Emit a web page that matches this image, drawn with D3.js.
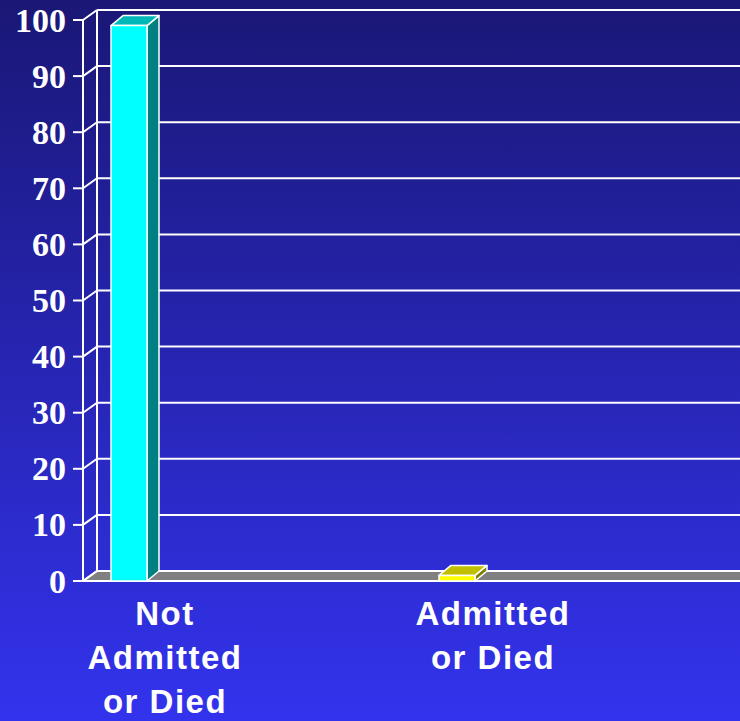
<!DOCTYPE html>
<html lang="en">
<head>
  <meta charset="UTF-8">
  <title>Admission outcome</title>
  <script src="https://d3js.org/d3.v7.min.js"></script>
  <style>
    body { margin: 0; background: #2020a0; }
    svg { display: block; }
    .tick-label { font-family: "Liberation Serif", "Times New Roman", serif; font-weight: bold; font-size: 34px; fill: #fff; }
    .cat-label { font-family: "Liberation Sans", Arial, sans-serif; font-weight: bold; font-size: 33px; fill: #fff; letter-spacing: 1.5px; }
  </style>
</head>
<body>
<svg id="chart" width="740" height="721"></svg>
<script>
  // data
  const categories = ["Not Admitted or Died", "Admitted or Died"];
  const labelLines = [["Not", "Admitted", "or Died"], ["Admitted", "or Died"]];
  const values = [99, 1];
  const tickValues = [0, 10, 20, 30, 40, 50, 60, 70, 80, 90, 100];

  const faceColors = [
    {front: "#00ffff", top: "#00b8b8", side: "#008080"},
    {front: "#ffff00", top: "#c0c000", side: "#808000"}
  ];

  const W = 740, H = 721;
  const svg = d3.select("#chart");

  // background gradient
  const grad = svg.append("defs").append("linearGradient")
    .attr("id", "bg").attr("x1", 0).attr("y1", 0).attr("x2", 0).attr("y2", 1);
  grad.append("stop").attr("offset", "0%").attr("stop-color", "#1a1776");
  grad.append("stop").attr("offset", "100%").attr("stop-color", "#3333ee");
  svg.append("rect").attr("width", W).attr("height", H).attr("fill", "url(#bg)");

  // 3d geometry
  const axisX = 83, wallDx = 14, wallDy = -10;
  const barDx = 12, barDy = -10;
  const y = d3.scaleLinear().domain([0, 100]).range([581, 20]);
  const x = d3.scaleBand().domain(categories).range([1, 657]);
  const barOffset = 110, barW = 36;

  const line = (x1, y1, x2, y2) => svg.append("line")
    .attr("x1", x1).attr("y1", y1).attr("x2", x2).attr("y2", y2)
    .attr("stroke", "#fff").attr("stroke-width", 2);

  // floor
  svg.append("polygon")
    .attr("points", [[axisX, y(0)], [axisX + wallDx, y(0) + wallDy], [W + 5, y(0) + wallDy], [W + 5, y(0)]].join(" "))
    .attr("fill", "#808080").attr("stroke", "#fff").attr("stroke-width", 2);

  // back wall gridlines and left wall connectors
  tickValues.forEach(t => {
    if (t > 0) line(axisX + wallDx, y(t) + wallDy, W + 5, y(t) + wallDy);
    line(axisX, y(t), axisX + wallDx, y(t) + wallDy);
    line(axisX - 10, y(t), axisX, y(t));
  });
  line(axisX, y(0), axisX, y(100));
  line(axisX + wallDx, y(0) + wallDy, axisX + wallDx, y(100) + wallDy);

  // tick labels
  svg.selectAll(".tick-label").data(tickValues).enter().append("text")
    .attr("class", "tick-label")
    .attr("x", axisX - 17).attr("y", d => y(d))
    .attr("dy", "0.34em").attr("text-anchor", "end")
    .text(d => d);

  // bars
  categories.forEach((c, i) => {
    const x0 = x(c) + barOffset, x1 = x0 + barW;
    const yb = y(0), yt = y(values[i]);
    const col = faceColors[i];
    const g = svg.append("g").attr("stroke", "#fff").attr("stroke-width", 1.5).attr("stroke-linejoin", "round");
    g.append("polygon")
      .attr("points", [[x1, yb], [x1 + barDx, yb + barDy], [x1 + barDx, yt + barDy], [x1, yt]].join(" "))
      .attr("fill", col.side);
    g.append("polygon")
      .attr("points", [[x0, yt], [x0 + barDx, yt + barDy], [x1 + barDx, yt + barDy], [x1, yt]].join(" "))
      .attr("fill", col.top);
    g.append("rect")
      .attr("x", x0).attr("y", yt).attr("width", barW).attr("height", yb - yt)
      .attr("fill", col.front);
  });

  // category labels
  categories.forEach((c, i) => {
    const cx = x(c) + x.bandwidth() / 2;
    svg.append("text").attr("class", "cat-label")
      .attr("text-anchor", "middle")
      .selectAll("tspan").data(labelLines[i]).enter().append("tspan")
      .attr("x", cx).attr("y", (d, j) => 625 + j * 44)
      .text(d => d);
  });
</script>
</body>
</html>
